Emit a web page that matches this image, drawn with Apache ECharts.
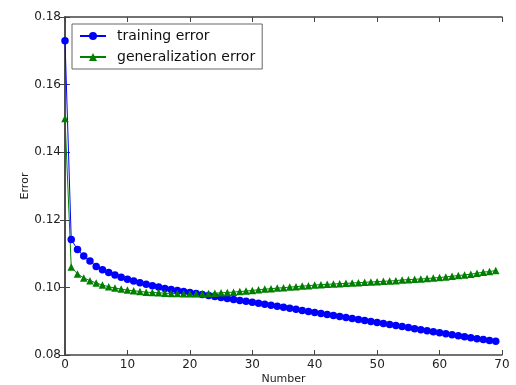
<!DOCTYPE html>
<html>
<head>
<meta charset="utf-8">
<script src="https://cdn.jsdelivr.net/npm/echarts@6/dist/echarts.min.js"></script>
<style>
  html, body { margin: 0; padding: 0; background: #fff; }
  #chart { width: 516px; height: 385px; }
</style>
</head>
<body>
<div id="chart"></div>
<script>
// x positions (iteration number)
const steps = [0, 1, 2, 3, 4, 5, 6, 7, 8, 9, 10, 11, 12, 13, 14, 15, 16, 17, 18, 19,
  20, 21, 22, 23, 24, 25, 26, 27, 28, 29, 30, 31, 32, 33, 34, 35, 36, 37, 38, 39,
  40, 41, 42, 43, 44, 45, 46, 47, 48, 49, 50, 51, 52, 53, 54, 55, 56, 57, 58, 59,
  60, 61, 62, 63, 64, 65, 66, 67, 68, 69];

const trainingError = [0.173, 0.1142, 0.1112, 0.1093, 0.1078, 0.1062, 0.1052, 0.1044, 0.1037, 0.1030,
  0.1024, 0.1019, 0.1014, 0.1009, 0.1005, 0.1001, 0.0997, 0.0994, 0.0991, 0.0988,
  0.0985, 0.0982, 0.0979, 0.0976, 0.0973, 0.0970, 0.0967, 0.0964, 0.0961, 0.0959,
  0.0956, 0.0953, 0.0950, 0.0947, 0.0944, 0.0941, 0.0938, 0.0935, 0.0932, 0.0929,
  0.0926, 0.0923, 0.0920, 0.0917, 0.0914, 0.0911, 0.0908, 0.0905, 0.0902, 0.0899,
  0.0896, 0.0893, 0.0890, 0.0887, 0.0884, 0.0881, 0.0878, 0.0875, 0.0872, 0.0869,
  0.0866, 0.0863, 0.0860, 0.0857, 0.0854, 0.0851, 0.0848, 0.0846, 0.0843, 0.0841];

const generalizationError = [0.150, 0.1060, 0.1040, 0.1028, 0.1020, 0.1013, 0.1007, 0.1002, 0.0998, 0.0995,
  0.0992, 0.0990, 0.0988, 0.0986, 0.0985, 0.0984, 0.0983, 0.0982, 0.0982, 0.0981,
  0.0981, 0.0981, 0.0981, 0.0982, 0.0983, 0.0984, 0.0985, 0.0986, 0.0988, 0.0989,
  0.0991, 0.0993, 0.0995, 0.0996, 0.0998, 0.0999, 0.1001, 0.1002, 0.1004, 0.1005,
  0.1007, 0.1008, 0.1009, 0.1010, 0.1011, 0.1012, 0.1013, 0.1014, 0.1015, 0.1016,
  0.1017, 0.1018, 0.1019, 0.1020, 0.1022, 0.1023, 0.1024, 0.1025, 0.1026, 0.1028,
  0.1029, 0.1031, 0.1033, 0.1035, 0.1037, 0.1039, 0.1042, 0.1045, 0.1047, 0.1050];

const chart = echarts.init(document.getElementById('chart'));
const font = 'DejaVu Sans';
const axisLine = { show: true, lineStyle: { color: '#444', width: 1.5 } };
const axisTick = { show: true, inside: true, length: 5, lineStyle: { color: '#444' } };

const option = {
  animation: false,
  textStyle: { fontFamily: font },
  grid: { left: 65, top: 17, right: 14, bottom: 30, outerBoundsMode: 'none', containLabel: false },
  legend: {
    orient: 'vertical',
    left: 72,
    top: 24,
    padding: [5, 7, 5, 7],
    itemGap: 7,
    itemWidth: 26,
    itemHeight: 10,
    borderColor: '#666',
    borderWidth: 1,
    textStyle: { fontFamily: font, fontSize: 14, color: '#111', padding: [0, 0, 0, 6] },
    data: ['training error', 'generalization error']
  },
  xAxis: [{
    type: 'value',
    min: 0, max: 70, interval: 10,
    name: 'Number',
    nameLocation: 'middle',
    nameGap: 19,
    nameMoveOverlap: false,
    nameTextStyle: { fontSize: 11, color: '#222' },
    axisLine: axisLine,
    axisTick: axisTick,
    splitLine: { show: false },
    axisLabel: { fontSize: 12, color: '#222', margin: 4 }
  }, {
    type: 'value', position: 'top',
    min: 0, max: 70, interval: 10,
    axisLine: axisLine, axisTick: axisTick,
    axisLabel: { show: false }, splitLine: { show: false }
  }],
  yAxis: [{
    type: 'value',
    min: 0.08, max: 0.18, interval: 0.02,
    name: 'Error',
    nameLocation: 'middle',
    nameGap: 34,
    nameMoveOverlap: false,
    nameTextStyle: { fontSize: 11, color: '#222' },
    axisLine: axisLine,
    axisTick: axisTick,
    splitLine: { show: false },
    axisLabel: { fontSize: 12, color: '#222', margin: 4, formatter: v => v.toFixed(2) }
  }, {
    type: 'value', position: 'right',
    min: 0.08, max: 0.18, interval: 0.02,
    axisLine: axisLine, axisTick: axisTick,
    axisLabel: { show: false }, splitLine: { show: false }
  }],
  series: [{
    name: 'training error',
    type: 'line',
    data: steps.map((s, i) => [s, trainingError[i]]),
    symbol: 'circle',
    symbolSize: 7.5,
    itemStyle: { color: '#0000ff' },
    lineStyle: { color: '#0000ff', width: 1 }
  }, {
    name: 'generalization error',
    type: 'line',
    data: steps.map((s, i) => [s, generalizationError[i]]),
    symbol: 'triangle',
    symbolSize: 7.5,
    itemStyle: { color: '#007f00' },
    lineStyle: { color: '#007f00', width: 1 }
  }]
};

chart.setOption(option);
</script>
</body>
</html>
